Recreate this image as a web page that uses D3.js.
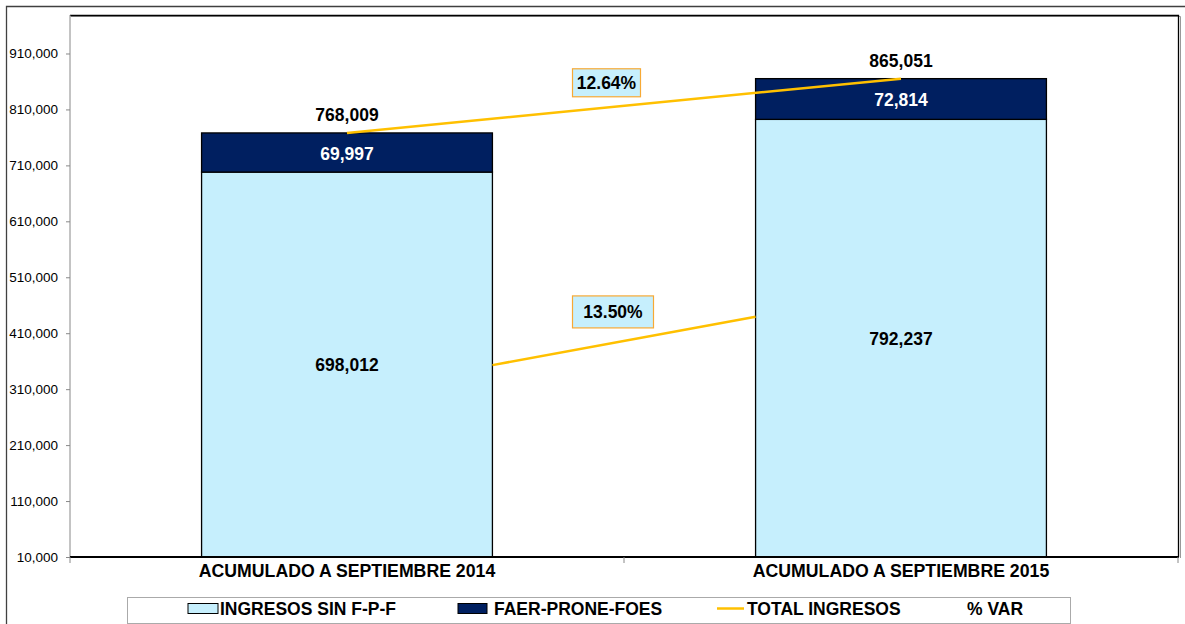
<!DOCTYPE html>
<html>
<head>
<meta charset="utf-8">
<script src="https://cdn.jsdelivr.net/npm/d3@7"></script>
<style>
  body { margin: 0; background: #fff; }
  svg { display: block; font-family: Arial, "Liberation Sans", sans-serif; }
</style>
</head>
<body>
<svg id="chart" width="1185" height="624"></svg>
<script>
// data
const categories = ['ACUMULADO A SEPTIEMBRE 2014', 'ACUMULADO A SEPTIEMBRE 2015'];
const ingresosSinFPF = [698012, 792237];
const faerProneFoes = [69997, 72814];
const totalIngresos = [768009, 865051];
const varTotal = ['12.64%'];
const varSinFPF = ['13.50%'];
// hand drawn connector between the light segments (value at bar edges)
const varLine = [353000, 439500];
const yTicks = [10000, 110000, 210000, 310000, 410000, 510000, 610000, 710000, 810000, 910000];
const legendNames = ['INGRESOS SIN F-P-F', 'FAER-PRONE-FOES', 'TOTAL INGRESOS', '% VAR'];

const lightBlue = '#C6EFFD', navy = '#001F60', gold = '#FFC000', boxStroke = '#F7A935';

const svg = d3.select('#chart');
const margin = { left: 70, right: 1178, top: 15, bottom: 557 };

const x = d3.scaleBand()
    .domain(categories)
    .range([margin.left, margin.right])
    .paddingInner(0.475)
    .paddingOuter(0.2375);

const y = d3.scaleLinear()
    .domain([10000, 978800])
    .range([margin.bottom, margin.top]);

// outer chart frame
svg.append('path')
    .attr('d', 'M6.5,624 V6.5 H1185')
    .attr('fill', 'none')
    .attr('stroke', '#404040')
    .attr('stroke-width', 1.3);

// plot frame (top + right, with small shadow)
svg.append('path')
    .attr('d', `M${margin.left},${margin.top + 0.5} H${margin.right + 1.5} V${margin.bottom}`)
    .attr('fill', 'none')
    .attr('stroke', '#999')
    .attr('stroke-width', 1)
    .attr('transform', 'translate(1,1)');
svg.append('path')
    .attr('d', `M${margin.left},${margin.top + 0.5} H${margin.right + 0.5} V${margin.bottom}`)
    .attr('fill', 'none')
    .attr('stroke', '#000')
    .attr('stroke-width', 1.3);

// y axis
const yAxis = svg.append('g')
    .attr('transform', `translate(${margin.left},0)`)
    .call(d3.axisLeft(y).tickValues(yTicks).tickSize(4).tickPadding(8).tickFormat(d3.format(',')));
yAxis.select('.domain').attr('stroke', '#888').attr('d', `M0,${margin.top}V${margin.bottom}`);
yAxis.selectAll('.tick line').attr('stroke', '#888');
yAxis.selectAll('.tick text')
    .attr('font-size', 13.5)
    .attr('font-family', 'Arial, "Liberation Sans", sans-serif')
    .attr('fill', '#000');

// bars
const g = svg.append('g');
categories.forEach((c, i) => {
    g.append('rect')
        .attr('x', x(c))
        .attr('y', y(ingresosSinFPF[i]))
        .attr('width', x.bandwidth())
        .attr('height', y(10000) - y(ingresosSinFPF[i]))
        .attr('fill', lightBlue)
        .attr('stroke', '#000')
        .attr('stroke-width', 1.3);
    g.append('rect')
        .attr('x', x(c))
        .attr('y', y(totalIngresos[i]))
        .attr('width', x.bandwidth())
        .attr('height', y(ingresosSinFPF[i]) - y(totalIngresos[i]))
        .attr('fill', navy)
        .attr('stroke', '#000')
        .attr('stroke-width', 1.3);
});

// x axis
svg.append('line')
    .attr('x1', margin.left).attr('x2', margin.right + 1)
    .attr('y1', margin.bottom).attr('y2', margin.bottom)
    .attr('stroke', '#000').attr('stroke-width', 2);
const bounds = [margin.left, x(categories[0]) + x.bandwidth() + x.step() * x.paddingInner() / 2, margin.right];
svg.selectAll('.xtick')
    .data(bounds)
    .enter()
    .append('line')
    .attr('x1', d => d).attr('x2', d => d)
    .attr('y1', margin.bottom).attr('y2', margin.bottom + 6)
    .attr('stroke', '#888');
svg.selectAll('.xlab')
    .data(categories)
    .enter()
    .append('text')
    .attr('x', d => x(d) + x.bandwidth() / 2)
    .attr('y', 577)
    .attr('text-anchor', 'middle')
    .attr('font-size', 17.7)
    .attr('font-weight', 'bold')
    .text(d => d);

// lines
const cx = i => x(categories[i]) + x.bandwidth() / 2;
svg.append('line')
    .attr('x1', cx(0)).attr('y1', y(totalIngresos[0]))
    .attr('x2', cx(1)).attr('y2', y(totalIngresos[1]))
    .attr('stroke', gold).attr('stroke-width', 2.5);
svg.append('line')
    .attr('x1', x(categories[0]) + x.bandwidth()).attr('y1', y(varLine[0]))
    .attr('x2', x(categories[1])).attr('y2', y(varLine[1]))
    .attr('stroke', gold).attr('stroke-width', 2.5);

// value labels
const fmt = d3.format(',');
categories.forEach((c, i) => {
    const mx = cx(i);
    svg.append('text')
        .attr('x', mx).attr('y', y(totalIngresos[i]) - 12)
        .attr('text-anchor', 'middle').attr('font-size', 17.5).attr('font-weight', 'bold')
        .text(fmt(totalIngresos[i]));
    svg.append('text')
        .attr('x', mx).attr('y', (y(totalIngresos[i]) + y(ingresosSinFPF[i])) / 2 + 7)
        .attr('text-anchor', 'middle').attr('font-size', 17.5).attr('font-weight', 'bold')
        .attr('fill', '#fff')
        .text(fmt(faerProneFoes[i]));
    svg.append('text')
        .attr('x', mx).attr('y', (y(ingresosSinFPF[i]) + y(10000)) / 2 + 6.5)
        .attr('text-anchor', 'middle').attr('font-size', 17.5).attr('font-weight', 'bold')
        .text(fmt(ingresosSinFPF[i]));
});

// percent boxes
const pctBox = (label, bx, by, w, h) => {
    svg.append('rect')
        .attr('x', bx).attr('y', by).attr('width', w).attr('height', h)
        .attr('fill', lightBlue).attr('stroke', boxStroke).attr('stroke-width', 1.2);
    svg.append('text')
        .attr('x', bx + w / 2).attr('y', by + h / 2 + 6.5)
        .attr('text-anchor', 'middle').attr('font-size', 17.5).attr('font-weight', 'bold')
        .text(label);
};
const midTotal = (y(totalIngresos[0]) + y(totalIngresos[1])) / 2;
const midVar = (y(varLine[0]) + y(varLine[1])) / 2;
pctBox(varTotal[0], 572.5, midTotal - 37, 68, 28);
pctBox(varSinFPF[0], 572.5, midVar - 45, 81, 32);

// legend
const leg = svg.append('g');
leg.append('rect')
    .attr('x', 127.5).attr('y', 597.5).attr('width', 943).attr('height', 26)
    .attr('fill', '#fff').attr('stroke', '#aaa');
leg.append('rect')
    .attr('x', 188).attr('y', 603.5).attr('width', 30).attr('height', 10)
    .attr('fill', lightBlue).attr('stroke', '#000');
leg.append('rect')
    .attr('x', 458).attr('y', 603.5).attr('width', 29).attr('height', 10)
    .attr('fill', navy).attr('stroke', '#000');
leg.append('line')
    .attr('x1', 717).attr('x2', 744).attr('y1', 608.5).attr('y2', 608.5)
    .attr('stroke', gold).attr('stroke-width', 2.5);
const legX = [220, 494, 747, 967];
leg.selectAll('text')
    .data(legendNames)
    .enter()
    .append('text')
    .attr('x', (d, i) => legX[i])
    .attr('y', 615)
    .attr('font-size', 17.5)
    .attr('font-weight', 'bold')
    .text(d => d);
</script>
</body>
</html>
